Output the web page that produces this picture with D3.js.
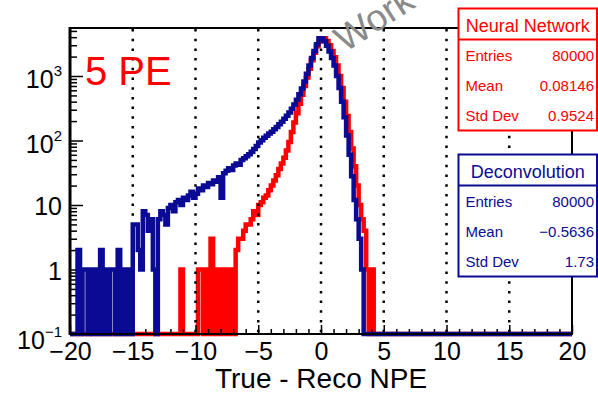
<!DOCTYPE html>
<html>
<head>
<meta charset="utf-8">
<script src="https://cdn.jsdelivr.net/npm/d3@7"></script>
<style>
  html, body { margin: 0; padding: 0; background: #fff; }
  svg { display: block; font-family: "Liberation Sans", Arial, Helvetica, sans-serif; }
</style>
</head>
<body>
<svg id="chart" width="598" height="393"></svg>
<script>
// ---- data ----
const binWidth = 0.2;
const xRange = [-20, 20];
const yRange = [0.1, 5550];
const xMajorTicks = [-20, -15, -10, -5, 0, 5, 10, 15, 20];
const yMajorTicks = [0.1, 1, 10, 100, 1000];
const yTickBases = ["10", "1", "10", "10", "10"];
const yTickExponents = ["\u22121", "", "", "2", "3"];

// Deconvolution: counts per bin, first bin starts at -20
const deconvStart = -20;
const deconvCounts = [
  0, 0, 0, 2, 0, 1, 1, 0, 1, 0, 1, 0, 2, 0, 1, 0, 1, 1, 0, 2, 0, 1, 0, 1, 0,
  5, 5, 2, 1, 8, 7, 4, 6, 1, 0, 6, 8, 7, 5, 9, 10, 8, 11, 12, 10, 13, 12, 14, 16, 13,
  15, 18, 17, 20, 19, 22, 21, 24, 23, 27, 13, 31, 34, 37, 35, 41, 44, 42, 50, 53, 57, 61, 67, 74, 82,
  93, 101, 110, 118, 128, 137, 149, 162, 178, 196, 218, 243, 272, 310, 360, 430, 520, 640, 820, 1080, 1450, 1900, 2450, 3100, 3850,
  3800, 3450, 2950, 2400, 1900, 1450, 1000, 650, 400, 230, 120, 60, 28, 12, 6, 3, 1
];

// Neural network: counts per bin, first listed bin starts at -11.2
const nnStart = -11.2;
const nnCounts = [
  1, 0, 0, 0, 0, 0, 0,
  1, 1, 0, 1, 0, 3, 0, 1, 0, 1, 0, 1, 0, 1, 0,
  2, 3, 3, 4, 5, 5, 6, 8, 7, 10,
  11, 13, 14, 17, 20, 24, 29, 36, 44, 54,
  70, 95, 135, 190, 265, 370, 510, 700, 950, 1300,
  1750, 2300, 2900, 3450,
  3800, 3850, 3500, 3000, 2450, 1950, 1450, 1000, 650, 400,
  240, 135, 75, 40, 20, 10, 6, 4, 1, 0, 1
];

const boxTitles = ["Neural Network", "Deconvolution"];
const statLabels = ["Entries", "Mean", "Std Dev"];
const nnStatValues = ["80000", "0.08146", "0.9524"];
const deconvStatValues = ["80000", "\u22120.5636", "1.73"];

// ---- drawing ----
const RED = "#ff0000";
const BLUE = "#0a0a94";
const svg = d3.select("#chart");
const frame = { left: 70, right: 572, top: 28, bottom: 334 };

const x = d3.scaleLinear().domain(xRange).range([frame.left, frame.right]);
const y = d3.scaleLog().domain(yRange).range([frame.bottom, frame.top]);

const nBins = Math.round((xRange[1] - xRange[0]) / binWidth);
function fullBins(start, counts) {
  const arr = new Array(nBins).fill(0);
  const off = Math.round((start - xRange[0]) / binWidth);
  counts.forEach((c, i) => { if (off + i >= 0 && off + i < nBins) arr[off + i] = c; });
  return arr;
}
function stepPoints(bins) {
  const pts = bins.map((c, i) => [xRange[0] + i * binWidth, c]);
  pts.push([xRange[1], bins[bins.length - 1]]);
  return pts;
}
const histLine = d3.line()
  .x(d => x(d[0]))
  .y(d => y(Math.max(d[1], yRange[0])))
  .curve(d3.curveStepAfter);

// neural network histogram (underneath)
svg.append("path")
  .attr("d", histLine(stepPoints(fullBins(nnStart, nnCounts))))
  .attr("fill", "none").attr("stroke", RED).attr("stroke-width", 4.5)
  .attr("stroke-linejoin", "miter");

// dotted grid
svg.append("g").selectAll("line")
  .data(xMajorTicks.filter(v => v > xRange[0] && v < xRange[1]))
  .join("line")
  .attr("x1", d => x(d)).attr("x2", d => x(d))
  .attr("y1", frame.top + 1).attr("y2", frame.bottom)
  .attr("stroke", "#000").attr("stroke-width", 2.5)
  .attr("stroke-dasharray", "2.5,7.2");

// x axis
const fmtX = d => (d < 0 ? "\u2212" + Math.abs(d) : String(d));
const xMinor = d3.range(xRange[0], xRange[1] + 1, 1).filter(v => v % 5 !== 0);
const gxMinor = svg.append("g").attr("transform", `translate(0,${frame.bottom})`)
  .call(d3.axisBottom(x).tickValues(xMinor).tickSize(-5).tickFormat(""));
const gx = svg.append("g").attr("transform", `translate(0,${frame.bottom})`)
  .call(d3.axisBottom(x).tickValues(xMajorTicks).tickSize(-9).tickPadding(8).tickFormat(fmtX));
[gx, gxMinor].forEach(g => {
  g.select(".domain").remove();
  g.selectAll(".tick line").attr("stroke", "#000").attr("stroke-width", 1.5);
});
gx.selectAll(".tick text").attr("font-size", 25).attr("fill", "#000")
  .attr("font-family", "Liberation Sans, Arial, sans-serif");

// y axis
const yMinor = [];
yMajorTicks.forEach(d => { for (let k = 2; k <= 9; k++) if (k * d <= yRange[1]) yMinor.push(k * d); });
const gyMinor = svg.append("g").attr("transform", `translate(${frame.left},0)`)
  .call(d3.axisLeft(y).tickValues(yMinor).tickSize(-7).tickFormat(""));
const gy = svg.append("g").attr("transform", `translate(${frame.left},0)`)
  .call(d3.axisLeft(y).tickValues(yMajorTicks).tickSize(-13).tickFormat(""));
[gy, gyMinor].forEach(g => {
  g.select(".domain").remove();
  g.selectAll(".tick line").attr("stroke", "#000").attr("stroke-width", 1.5);
});
const yLabels = svg.append("g").attr("font-size", 25).attr("fill", "#000");
yMajorTicks.forEach((v, i) => {
  const t = yLabels.append("text")
    .attr("x", frame.left - 8)
    .attr("y", y(v) + (yTickExponents[i] ? (v < 1 ? 15 : 12) : 10))
    .attr("text-anchor", "end");
  t.append("tspan").text(yTickBases[i]);
  if (yTickExponents[i]) {
    t.append("tspan").attr("font-size", 15).attr("dy", -12).text(yTickExponents[i]);
  }
});

// deconvolution histogram (on top)
svg.append("path")
  .attr("d", histLine(stepPoints(fullBins(deconvStart, deconvCounts))))
  .attr("fill", "none").attr("stroke", BLUE).attr("stroke-width", 4.5)
  .attr("stroke-linejoin", "miter");

// frame
svg.append("rect")
  .attr("x", frame.left).attr("y", frame.top)
  .attr("width", frame.right - frame.left).attr("height", frame.bottom - frame.top)
  .attr("fill", "none").attr("stroke", "#000").attr("stroke-width", 2);
svg.append("line")
  .attr("x1", frame.left).attr("x2", frame.left)
  .attr("y1", frame.top - 1).attr("y2", frame.bottom + 1)
  .attr("stroke", "#000").attr("stroke-width", 3);

// axis title
svg.append("text")
  .attr("x", (frame.left + frame.right) / 2).attr("y", 388)
  .attr("text-anchor", "middle").attr("font-size", 28).attr("fill", "#000")
  .text("True - Reco NPE");

// label
svg.append("text")
  .attr("x", 85).attr("y", 85)
  .attr("font-size", 40).attr("fill", RED)
  .text("5 PE");

// statistics boxes
function statBox(top, color, title, values) {
  const g = svg.append("g");
  const left = 458.5, right = 597, rowH = 30;
  const height = 122;
  g.append("rect").attr("x", left).attr("y", top)
    .attr("width", right - left).attr("height", height)
    .attr("fill", "#fff").attr("stroke", color).attr("stroke-width", 2);
  g.append("line").attr("x1", left).attr("x2", right)
    .attr("y1", top + 31).attr("y2", top + 31)
    .attr("stroke", color).attr("stroke-width", 2);
  g.append("text").attr("x", (left + right) / 2).attr("y", top + 23)
    .attr("text-anchor", "middle").attr("font-size", 18).attr("fill", color)
    .text(title);
  statLabels.forEach((lab, i) => {
    const by = top + 52 + i * rowH;
    g.append("text").attr("x", left + 7).attr("y", by)
      .attr("font-size", 15).attr("fill", color).text(lab);
    g.append("text").attr("x", right - 3).attr("y", by)
      .attr("text-anchor", "end").attr("font-size", 15).attr("fill", color).text(values[i]);
  });
}
statBox(8.5, RED, boxTitles[0], nnStatValues);
statBox(154.5, BLUE, boxTitles[1], deconvStatValues);

// watermark
svg.append("text")
  .attr("transform", "translate(345,53) rotate(-33)")
  .attr("font-size", 37).attr("fill", "#8a8a8a")
  .text("Work");
</script>
</body>
</html>
